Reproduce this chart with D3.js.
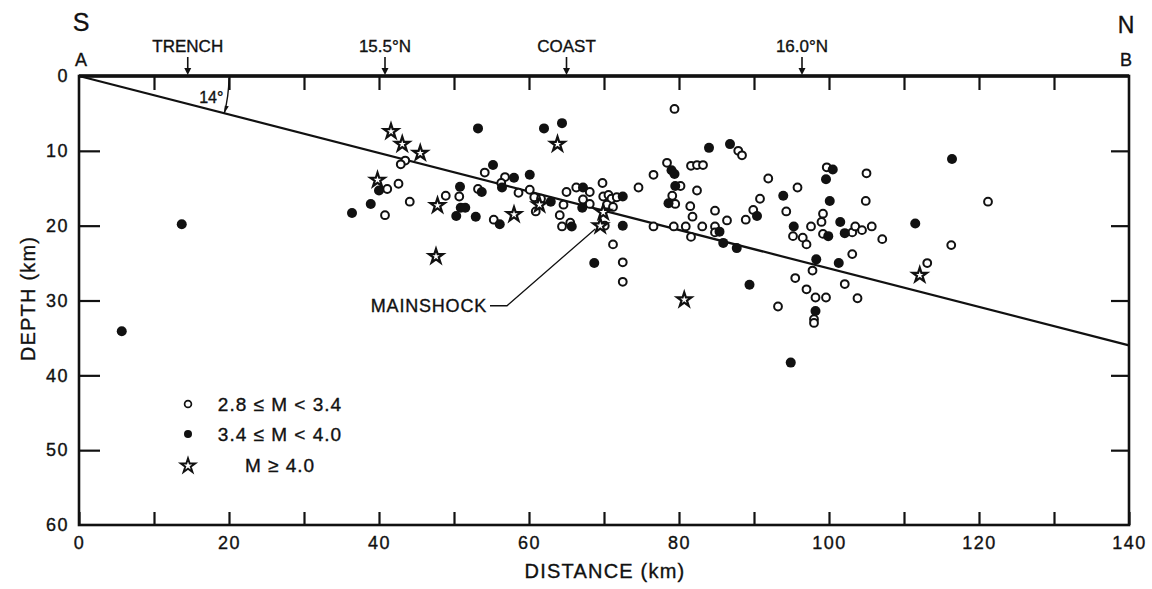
<!DOCTYPE html>
<html>
<head>
<meta charset="utf-8">
<script src="https://cdn.jsdelivr.net/npm/d3@7"></script>
<style>
  html, body { margin: 0; padding: 0; background: #fff; }
  svg { display: block; }
  text { font-family: "Liberation Sans", Arial, sans-serif; fill: #111; stroke: #111; stroke-width: 0.35px; }
</style>
</head>
<body>
<svg id="chart" width="1152" height="589"></svg>
<script>
// Hypocentres projected onto the A–B section: [distance km, depth km]
const smallEvents = [ // 2.8 <= M < 3.4
  [43.5,11.3],[42.9,11.8],[42.6,14.4],[41.1,15.1],[44.1,16.8],[40.8,18.6],
  [48.9,16.0],[50.7,16.1],[53.2,15.1],[54.1,12.9],[56.8,13.5],[56.3,14.3],
  [58.6,15.6],[60.1,15.2],[55.3,19.2],[60.9,18.1],[60.7,16.2],[61.6,16.4],
  [64.6,17.2],[64.1,18.6],[64.4,20.1],[65.5,19.6],[65.0,15.5],[66.3,14.9],
  [68.1,15.5],[67.2,16.5],[68.1,17.1],[69.8,14.3],[69.9,16.1],[70.6,15.9],
  [71.0,16.4],[71.7,16.2],[70.4,17.2],[71.2,17.5],[70.1,20.0],[71.2,22.5],
  [72.5,24.9],[72.5,27.5],[74.6,14.9],[76.6,13.2],[76.6,20.1],[78.4,11.6],
  [79.4,4.4],[80.2,14.7],[79.1,16.0],[79.5,17.1],[79.3,20.1],[81.6,12.0],
  [82.4,11.9],[83.2,11.9],[82.4,15.3],[81.5,17.4],[81.8,18.8],[80.9,20.1],
  [83.1,20.1],[84.8,20.1],[81.6,21.5],[84.8,20.9],[84.8,18.0],[87.9,10.0],
  [88.4,10.6],[86.4,19.3],[88.9,19.2],[89.9,17.9],[90.8,16.4],[91.9,13.7],
  [94.3,18.1],[95.8,14.9],[97.6,20.1],[95.2,21.4],[96.5,21.6],[97.0,22.5],
  [99.2,18.4],[99.0,19.5],[99.2,21.1],[99.7,12.2],[103.1,20.9],[103.5,20.1],
  [104.4,20.6],[105.7,20.1],[105.0,13.0],[104.9,16.7],[107.1,21.8],[103.1,23.8],
  [116.3,22.6],[121.2,16.8],[113.1,25.0],[103.8,29.7],[97.8,26.0],[95.5,27.0],
  [102.1,27.8],[97.0,28.5],[98.2,29.6],[99.6,29.6],[93.2,30.8],[98.0,32.5],
  [98.0,33.0]
];
const moderateEvents = [ // 3.4 <= M < 4.0
  [5.7,34.1],[13.7,19.8],[36.4,18.3],[38.9,17.1],[40.0,15.3],[50.3,18.7],
  [50.9,17.6],[51.5,17.6],[52.9,18.8],[50.8,14.8],[53.2,7.0],[53.7,15.5],
  [55.2,11.9],[58.0,13.6],[56.4,14.9],[56.1,19.8],[60.1,13.2],[62.0,7.0],
  [64.4,6.3],[62.9,16.8],[65.7,20.1],[67.2,14.9],[67.1,17.6],[72.5,16.1],
  [72.5,20.0],[68.7,25.0],[79.0,12.6],[79.4,13.1],[79.5,14.7],[78.6,17.0],
  [84.0,9.6],[86.8,9.1],[85.4,20.8],[85.9,22.3],[87.7,23.0],[89.4,27.9],
  [90.4,18.7],[93.9,16.0],[95.3,20.1],[94.9,38.3],[100.5,12.5],[99.6,13.8],
  [100.1,16.7],[99.9,21.4],[101.5,19.5],[102.1,21.0],[98.3,24.5],[101.3,25.0],
  [98.2,31.4],[116.4,11.1],[111.5,19.7]
];
const largeEvents = [ // M >= 4.0
  [41.6,7.3],[43.1,9.0],[45.5,10.2],[39.8,13.8],[47.8,17.2],[47.6,24.0],
  [58.0,18.4],[61.4,17.1],[63.8,9.0],[69.9,18.1],[69.5,19.9],[80.7,29.8],
  [112.1,26.5]
];
const mainshock = [69.5, 19.9];

const distanceTicks = [0,10,20,30,40,50,60,70,80,90,100,110,120,130,140];
const distanceLabels = [0,20,40,60,80,100,120,140];
const depthTicks = [0,10,20,30,40,50,60];

// Landmarks along the top of the section: [label, distance km]
const landmarkNames = ["TRENCH", "15.5°N", "COAST", "16.0°N"];
const landmarkDist = [14.5, 40.8, 65.0, 96.4];

// Dipping plane: 14° interface from the trench-side end
const planeDist = [0, 140];
const planeDepth = [0, 36];

const legendLabels = ["2.8 \u2264 M < 3.4", "3.4 \u2264 M < 4.0", "M \u2265 4.0"];

const svg = d3.select("#chart");
const x = d3.scaleLinear().domain([0, 140]).range([79, 1129]);
const y = d3.scaleLinear().domain([0, 60]).range([76, 525]);
const ink = "#111";

// Frame
svg.append("rect")
  .attr("x", x(0)).attr("y", y(0))
  .attr("width", x(140) - x(0)).attr("height", y(60) - y(0))
  .attr("fill", "none").attr("stroke", ink).attr("stroke-width", 2.6);
svg.append("line")
  .attr("x1", x(0)).attr("x2", x(140)).attr("y1", y(0)).attr("y2", y(0))
  .attr("stroke", ink).attr("stroke-width", 3.4);

function styleAxis(g) {
  g.select(".domain").remove();
  g.selectAll(".tick line").attr("stroke", ink).attr("stroke-width", 2.2);
  g.selectAll(".tick text")
    .style("font-family", "'Liberation Sans', Arial, sans-serif")
    .style("letter-spacing", "1.5px")
    .attr("font-size", 18).attr("fill", ink);
}

// Bottom axis: inward ticks every 10 km, labels every 20 km
svg.append("g")
  .attr("transform", `translate(0,${y(60)})`)
  .call(d3.axisBottom(x).tickValues(distanceTicks).tickSizeInner(-13).tickSizeOuter(0)
    .tickPadding(11).tickFormat(d => distanceLabels.includes(d) ? d : ""))
  .call(styleAxis);

// Top axis: inward ticks only
svg.append("g")
  .attr("transform", `translate(0,${y(0)})`)
  .call(d3.axisTop(x).tickValues(distanceTicks.slice(1, -1)).tickSizeInner(-14)
    .tickSizeOuter(0).tickFormat(""))
  .call(styleAxis);

// Left axis with depth labels
svg.append("g")
  .attr("transform", `translate(${x(0)},0)`)
  .call(d3.axisLeft(y).tickValues(depthTicks.slice(1, -1)).tickSizeInner(-21)
    .tickSizeOuter(0).tickPadding(11).tickFormat(""))
  .call(styleAxis);
svg.append("g")
  .attr("transform", `translate(${x(0)},0)`)
  .call(d3.axisLeft(y).tickValues(depthTicks).tickSize(0).tickPadding(10))
  .call(styleAxis);

// Right axis: inward ticks
svg.append("g")
  .attr("transform", `translate(${x(140)},0)`)
  .call(d3.axisRight(y).tickValues(depthTicks.slice(1, -1)).tickSizeInner(-18)
    .tickSizeOuter(0).tickFormat(""))
  .call(styleAxis);

// Axis titles
svg.append("text")
  .attr("x", 605).attr("y", 578).attr("text-anchor", "middle")
  .attr("font-size", 20).style("letter-spacing", "1.2px").text("DISTANCE (km)");
svg.append("text")
  .attr("transform", `translate(35,${y(30) - 2}) rotate(-90)`)
  .attr("text-anchor", "middle").attr("font-size", 20)
  .style("letter-spacing", "1.2px").text("DEPTH (km)");

// Section end labels
svg.append("text").attr("x", x(0) + 2).attr("y", 31).attr("text-anchor", "middle")
  .attr("font-size", 25).text("S");
svg.append("text").attr("x", x(0) + 2).attr("y", 66).attr("text-anchor", "middle")
  .attr("font-size", 18).text("A");
svg.append("text").attr("x", x(140) - 3).attr("y", 33).attr("text-anchor", "middle")
  .attr("font-size", 23).text("N");
svg.append("text").attr("x", x(140) - 3).attr("y", 66).attr("text-anchor", "middle")
  .attr("font-size", 18).text("B");

// Landmarks with downward arrows
const marks = svg.append("g");
landmarkNames.forEach((name, i) => {
  const px = x(landmarkDist[i]);
  marks.append("text").attr("x", px).attr("y", 52).attr("text-anchor", "middle")
    .attr("font-size", 17).text(name);
  marks.append("line").attr("x1", px).attr("x2", px).attr("y1", 57).attr("y2", 70)
    .attr("stroke", ink).attr("stroke-width", 1.6);
  marks.append("path")
    .attr("d", `M${px - 3.5},${y(0) - 8} L${px + 3.5},${y(0) - 8} L${px},${y(0) - 1} Z`)
    .attr("fill", ink);
});

// Dipping plane line
svg.append("line")
  .attr("x1", x(planeDist[0])).attr("y1", y(planeDepth[0]))
  .attr("x2", x(planeDist[1])).attr("y2", y(planeDepth[1]))
  .attr("stroke", ink).attr("stroke-width", 2.2);

// 14° angle arc
const arcR = x(20) - x(0);
const dipRad = Math.atan((y(planeDepth[1]) - y(0)) / (x(planeDist[1]) - x(0)));
const ax0 = x(0) + arcR, ay0 = y(0);
const ax1 = x(0) + arcR * Math.cos(dipRad), ay1 = y(0) + arcR * Math.sin(dipRad);
svg.append("path")
  .attr("d", `M${ax0},${ay0 + 2} A${arcR},${arcR} 0 0 1 ${ax1},${ay1}`)
  .attr("fill", "none").attr("stroke", ink).attr("stroke-width", 1.4);
svg.append("path")
  .attr("d", `M${ax1 + 4.5},${ay1 - 7} L${ax1 + 0.5},${ay1 - 7.5} L${ax1},${ay1} Z`)
  .attr("fill", ink);
svg.append("text").attr("x", ax1 - 13).attr("y", ay1 - 10).attr("text-anchor", "middle")
  .attr("font-size", 16).text("14°");

// Symbols
const star = d3.symbol().type(d3.symbolStar).size(64);

svg.append("g").selectAll("circle").data(smallEvents).join("circle")
  .attr("cx", d => x(d[0])).attr("cy", d => y(d[1])).attr("r", 3.9)
  .attr("fill", "#fff").attr("stroke", ink).attr("stroke-width", 2);

svg.append("g").selectAll("circle").data(moderateEvents).join("circle")
  .attr("cx", d => x(d[0])).attr("cy", d => y(d[1])).attr("r", 5)
  .attr("fill", ink);

svg.append("g").selectAll("path").data(largeEvents).join("path")
  .attr("transform", d => `translate(${x(d[0])},${y(d[1]) + 0.8})`)
  .attr("d", star)
  .attr("fill", "#fff").attr("stroke", ink).attr("stroke-width", 2.2)
  .attr("stroke-linejoin", "miter");

// Mainshock label and leader
const labelX = x(54.4), labelY = y(30.7);
svg.append("text").attr("x", labelX).attr("y", labelY + 6.5).attr("text-anchor", "end")
  .attr("font-size", 18).style("letter-spacing", "0.8px").text("MAINSHOCK");
svg.append("path")
  .attr("d", `M${labelX + 3},${labelY} L${labelX + 20},${labelY} L${x(mainshock[0]) - 5},${y(mainshock[1]) + 4}`)
  .attr("fill", "none").attr("stroke", ink).attr("stroke-width", 1.3);

// Legend
const legendY = [404, 434, 465];
const lg = svg.append("g");
lg.append("circle").attr("cx", 188).attr("cy", legendY[0]).attr("r", 3.4)
  .attr("fill", "#fff").attr("stroke", ink).attr("stroke-width", 1.7);
lg.append("circle").attr("cx", 188).attr("cy", legendY[1]).attr("r", 4)
  .attr("fill", ink);
lg.append("path").attr("transform", `translate(188,${legendY[2] + 0.8})`)
  .attr("d", star).attr("fill", "#fff").attr("stroke", ink).attr("stroke-width", 1.9);
legendLabels.forEach((t, i) => {
  lg.append("text").attr("x", 280).attr("y", legendY[i] + 6.5)
    .attr("text-anchor", "middle").attr("font-size", 19)
    .style("letter-spacing", "1px").text(t);
});
</script>
</body>
</html>
